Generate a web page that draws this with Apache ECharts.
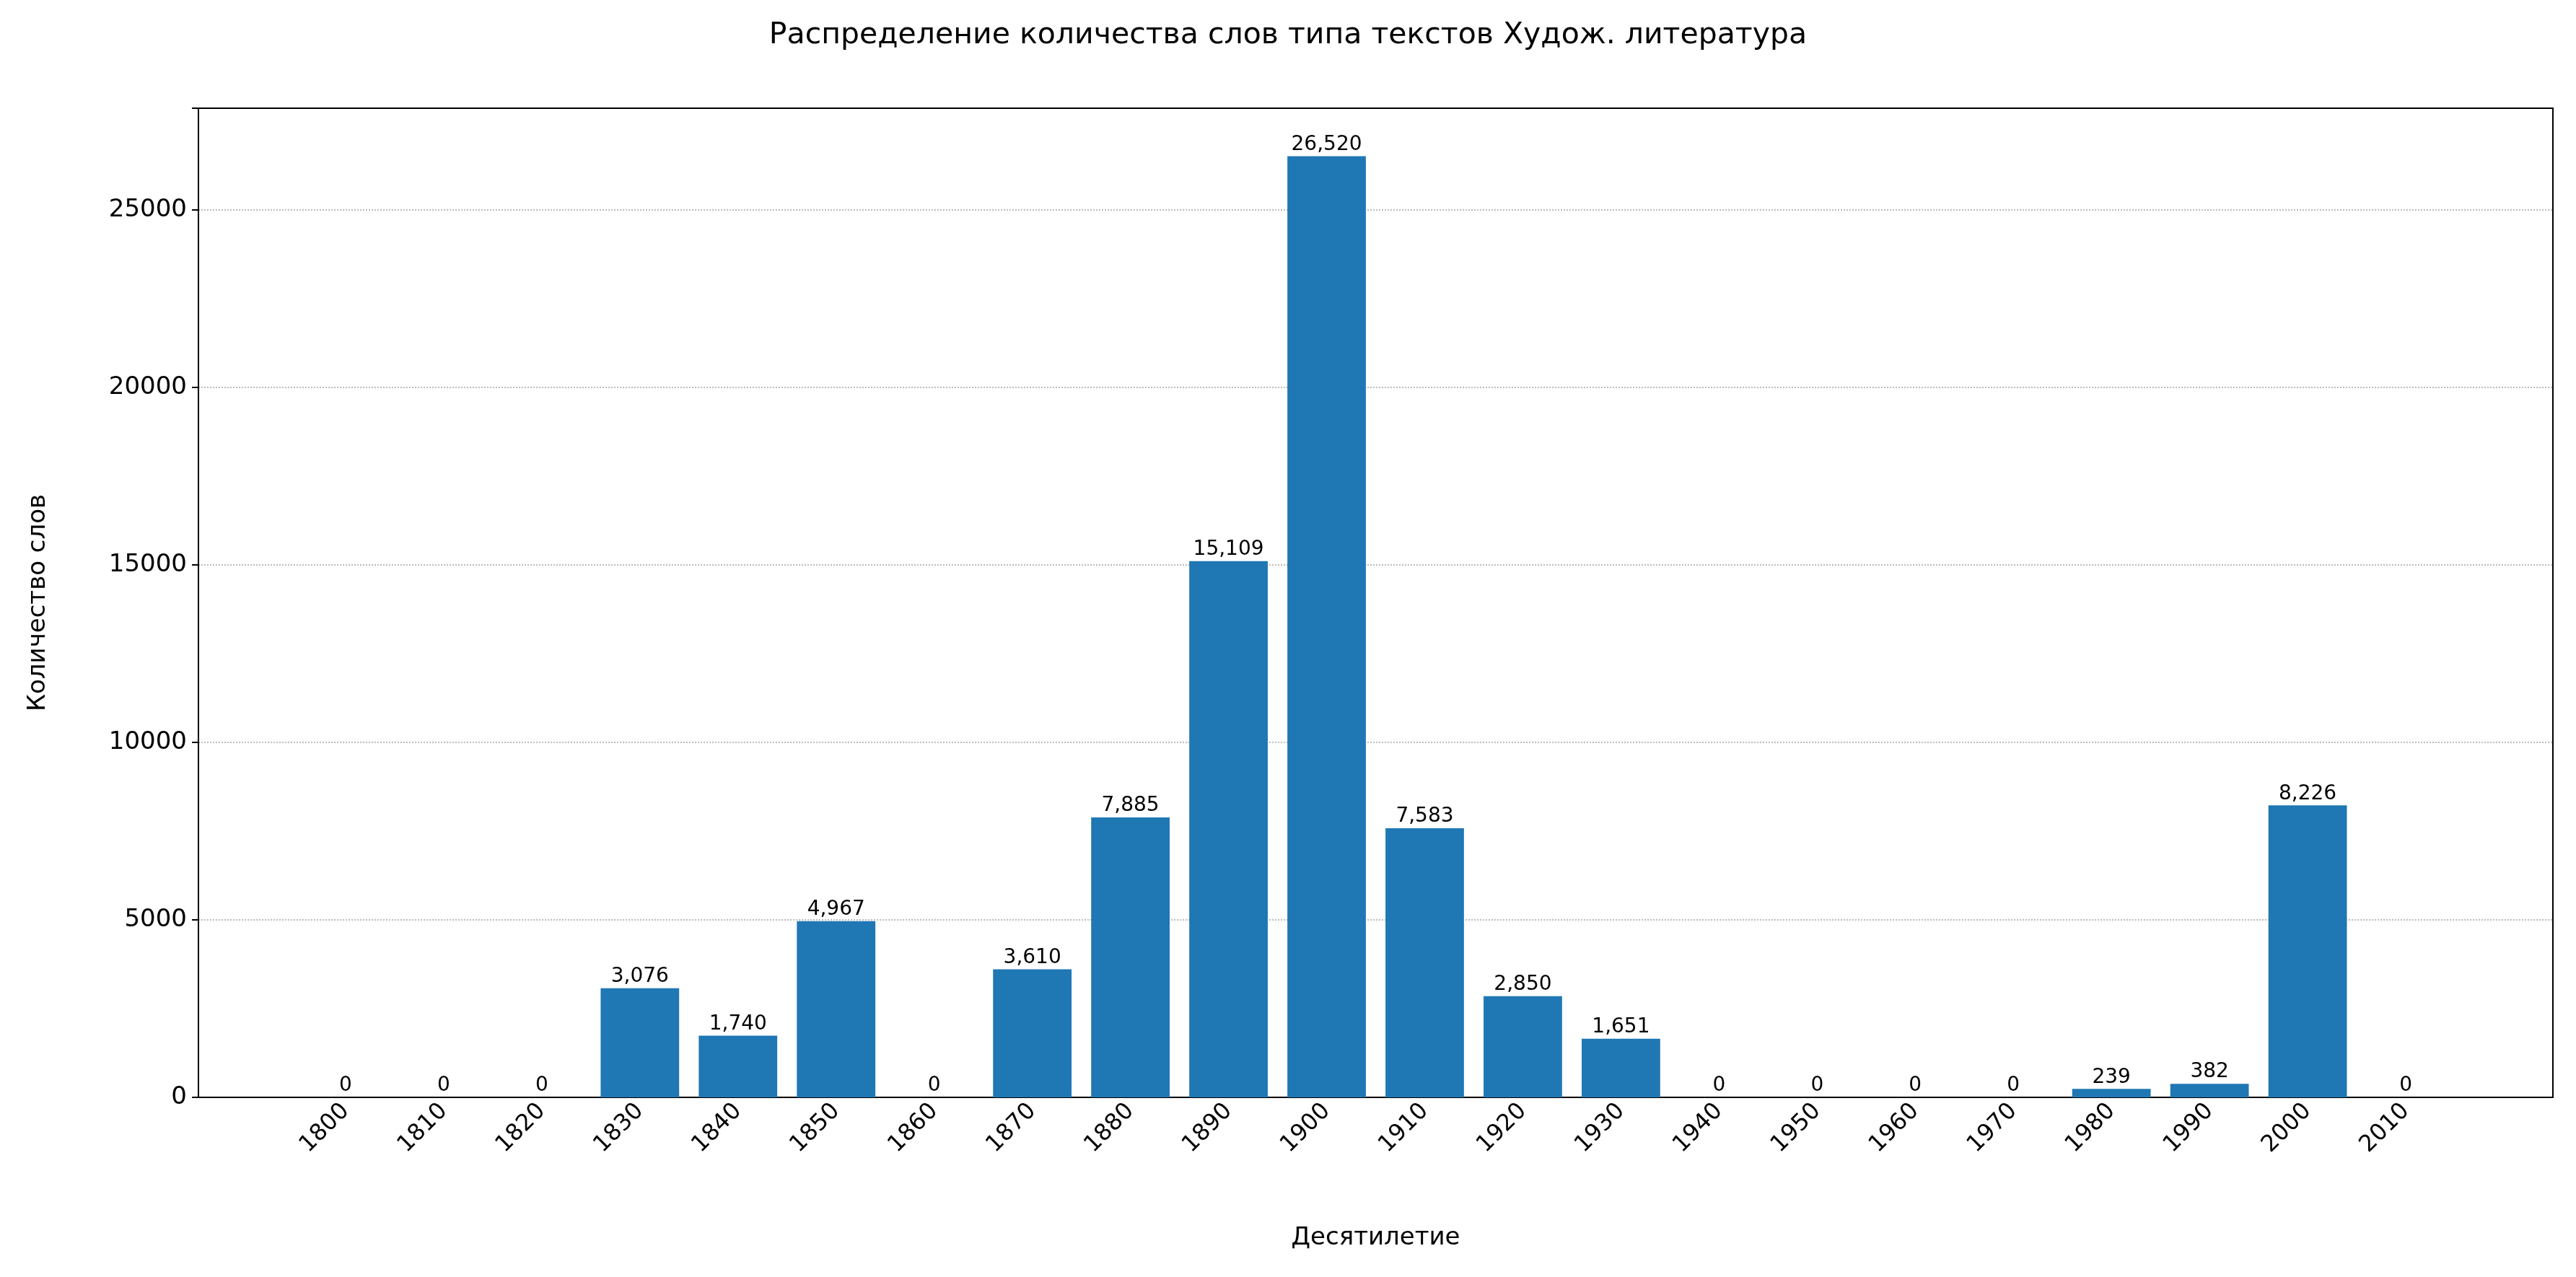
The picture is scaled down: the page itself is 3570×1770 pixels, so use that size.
<!DOCTYPE html>
<html>
<head>
<meta charset="utf-8">
<script src="https://cdn.jsdelivr.net/npm/echarts@6/dist/echarts.min.js"></script>
<style>html,body{margin:0;padding:0;background:#fff}#chart{width:3570px;height:1770px}</style>
</head>
<body>
<div id="chart"></div>
<script>
// десятилетия и количество слов
var decades = ['1800','1810','1820','1830','1840','1850','1860','1870','1880','1890','1900',
	'1910','1920','1930','1940','1950','1960','1970','1980','1990','2000','2010'];
var wordCounts = [0,0,0,3076,1740,4967,0,3610,7885,15109,26520,7583,2850,1651,0,0,0,0,239,382,8226,0];
var yTicks = [0,5000,10000,15000,20000,25000];

// пустые категории по краям — отступы как в matplotlib
var cats = [''].concat(decades, ['']);
var vals = [null].concat(wordCounts, [null]);

var font = 'DejaVu Sans';
var myChart = echarts.init(document.getElementById('chart'));
var option = {
	animation: false,
	textStyle: {fontFamily: font},
	title: {
		text: 'Распределение количества слов типа текстов Худож. литература',
		left: 'center', top: 24,
		textStyle: {fontFamily: font, fontSize: 41, fontWeight: 'normal', color: '#000'}
	},
	grid: {left: 275, right: 32, top: 150, bottom: 249, containLabel: false},
	xAxis: {
		type: 'category',
		data: cats,
		name: 'Десятилетие',
		nameLocation: 'middle',
		nameGap: 178,
		nameTextStyle: {fontSize: 34, color: '#000'},
		axisLine: {show: true, onZero: false, lineStyle: {color: '#000', width: 2}},
		axisTick: {alignWithLabel: true, length: 9, lineStyle: {color: '#000', width: 2},
			interval: function(i, v) { return v !== ''; }},
		axisLabel: {rotate: 45, fontSize: 32, color: '#000', interval: 0, margin: 14},
		splitLine: {show: false}
	},
	yAxis: {
		type: 'value',
		min: 0, max: 27870, interval: 5000,
		name: 'Количество слов',
		nameLocation: 'middle',
		nameGap: 205,
		nameTextStyle: {fontSize: 34, color: '#000'},
		axisLine: {show: true, lineStyle: {color: '#000', width: 2}},
		axisTick: {show: true, length: 9, lineStyle: {color: '#000', width: 2}},
		axisLabel: {fontSize: 34, color: '#000', margin: 16,
			formatter: function(v) { return yTicks.indexOf(v) >= 0 ? String(v) : ''; }},
		splitLine: {show: true, lineStyle: {color: '#bbb', type: 'dotted', width: 2}}
	},
	series: [{
		type: 'bar',
		data: vals,
		barCategoryGap: '20%',
		itemStyle: {color: '#1f77b4'},
		label: {
			show: true, position: 'top', distance: 2, fontSize: 28, color: '#000',
			formatter: function(p) { return p.value == null ? '' : p.value.toLocaleString('en-US'); }
		}
	}]
};
myChart.setOption(option);
// рамка вокруг области графика
var g = myChart.getModel().getComponent('grid').coordinateSystem.getRect();
myChart.setOption({graphic: [{type: 'rect', shape: {x: g.x, y: g.y, width: g.width, height: g.height},
	style: {fill: 'none', stroke: '#000', lineWidth: 2}, silent: true}]});
</script>
</body>
</html>
